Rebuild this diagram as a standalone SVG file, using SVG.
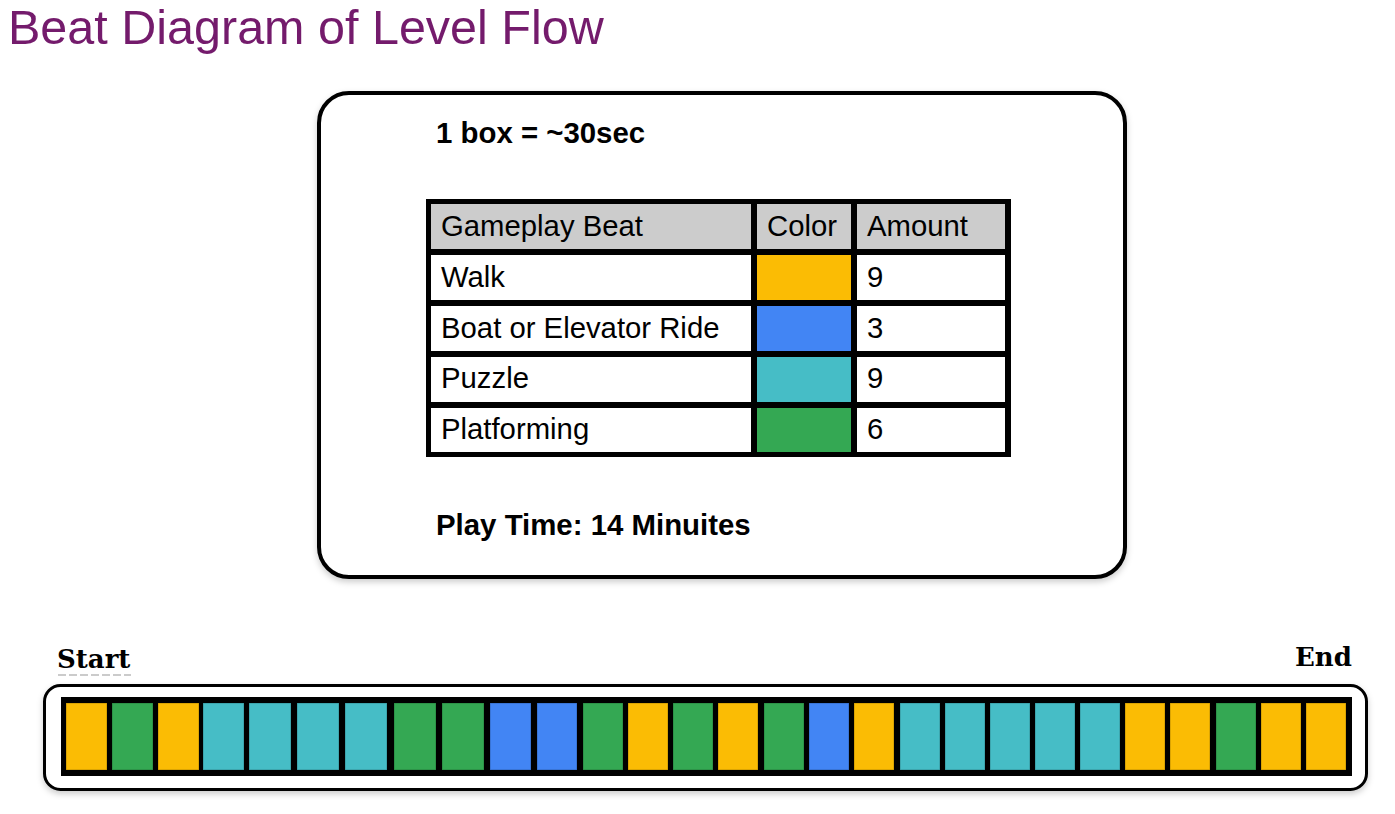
<svg xmlns="http://www.w3.org/2000/svg" width="1395" height="814" viewBox="0 0 1395 814">
<defs>
<style>
.title{font-family:"Liberation Sans",Arial,sans-serif;font-size:48.5px;fill:#741b6c}
.bold{font-family:"Liberation Sans",Arial,sans-serif;font-size:29.4px;font-weight:bold;fill:#000}
.cell{font-family:"Liberation Sans",Arial,sans-serif;font-size:29.3px;fill:#000}
.lbl{font-family:"DejaVu Serif","Liberation Serif",serif;font-size:26px;font-weight:bold;fill:#000}
.hdr{fill:#cccccc}
.wc{fill:#ffffff}
.Y{fill:#fbbc04}
.B{fill:#4285f4}
.T{fill:#46bdc6}
.G{fill:#34a853}
.box{stroke:#000;stroke-opacity:0.25;stroke-width:1}
</style>
<filter id="sh" x="-5%" y="-5%" width="110%" height="115%">
<feDropShadow dx="0" dy="3" stdDeviation="3" flood-color="#000" flood-opacity="0.2"/>
</filter>
</defs>
<rect width="1395" height="814" fill="#ffffff"/>
<text class="title" x="8" y="44">Beat Diagram of Level Flow</text>

<g id="legend-card">
<rect x="319" y="93" width="806" height="484" rx="30" fill="#fff" stroke="#000" stroke-width="4" filter="url(#sh)"/>
<text class="bold" x="436" y="143">1 box = ~30sec</text>
<g id="legend-table">
<rect x="426" y="199" width="585" height="258" fill="#000"/>
<rect class="hdr" x="431" y="204" width="320" height="45"/>
<rect class="hdr" x="757" y="204" width="94" height="45"/>
<rect class="hdr" x="857" y="204" width="148" height="45"/>
<rect class="wc" x="431" y="255" width="320" height="45"/>
<rect class="Y" x="757" y="255" width="94" height="45"/>
<rect class="wc" x="857" y="255" width="148" height="45"/>
<rect class="wc" x="431" y="306" width="320" height="45"/>
<rect class="B" x="757" y="306" width="94" height="45"/>
<rect class="wc" x="857" y="306" width="148" height="45"/>
<rect class="wc" x="431" y="357" width="320" height="45"/>
<rect class="T" x="757" y="357" width="94" height="45"/>
<rect class="wc" x="857" y="357" width="148" height="45"/>
<rect class="wc" x="431" y="408" width="320" height="44"/>
<rect class="G" x="757" y="408" width="94" height="44"/>
<rect class="wc" x="857" y="408" width="148" height="44"/>
<text class="cell" x="441" y="236">Gameplay Beat</text>
<text class="cell" x="767" y="236">Color</text>
<text class="cell" x="867" y="236">Amount</text>
<text class="cell" x="441" y="287">Walk</text>
<text class="cell" x="867" y="287">9</text>
<text class="cell" x="441" y="338">Boat or Elevator Ride</text>
<text class="cell" x="867" y="338">3</text>
<text class="cell" x="441" y="388">Puzzle</text>
<text class="cell" x="867" y="388">9</text>
<text class="cell" x="441" y="439">Platforming</text>
<text class="cell" x="867" y="439">6</text>
</g>
<text class="bold" x="436" y="535">Play Time: 14 Minuites</text>
</g>

<g id="start-label">
<text class="lbl" x="57" y="668">Start</text>
<line x1="58" y1="675" x2="131" y2="675" stroke="#bbb" stroke-width="1.5" stroke-dasharray="8 3"/>
</g>
<g id="end-label">
<text class="lbl" x="1295" y="666">End</text>
</g>

<g id="beat-bar">
<rect x="44.5" y="685.5" width="1322" height="104" rx="16" fill="#fff" stroke="#000" stroke-width="3" filter="url(#sh)"/>
<rect x="61" y="697" width="1291" height="79" fill="#000"/>
<g class="box">
<rect class="Y" x="66" y="703" width="41" height="67"/>
<rect class="G" x="112" y="703" width="41" height="67"/>
<rect class="Y" x="158" y="703" width="41" height="67"/>
<rect class="T" x="203" y="703" width="41" height="67"/>
<rect class="T" x="249" y="703" width="42" height="67"/>
<rect class="T" x="297" y="703" width="42" height="67"/>
<rect class="T" x="345" y="703" width="42" height="67"/>
<rect class="G" x="394" y="703" width="42" height="67"/>
<rect class="G" x="442" y="703" width="42" height="67"/>
<rect class="B" x="490" y="703" width="41" height="67"/>
<rect class="B" x="537" y="703" width="40" height="67"/>
<rect class="G" x="583" y="703" width="40" height="67"/>
<rect class="Y" x="628" y="703" width="40" height="67"/>
<rect class="G" x="673" y="703" width="40" height="67"/>
<rect class="Y" x="718" y="703" width="40" height="67"/>
<rect class="G" x="764" y="703" width="40" height="67"/>
<rect class="B" x="809" y="703" width="40" height="67"/>
<rect class="Y" x="854" y="703" width="40" height="67"/>
<rect class="T" x="900" y="703" width="40" height="67"/>
<rect class="T" x="945" y="703" width="40" height="67"/>
<rect class="T" x="990" y="703" width="40" height="67"/>
<rect class="T" x="1035" y="703" width="40" height="67"/>
<rect class="T" x="1080" y="703" width="40" height="67"/>
<rect class="Y" x="1125" y="703" width="40" height="67"/>
<rect class="Y" x="1170" y="703" width="40" height="67"/>
<rect class="G" x="1216" y="703" width="40" height="67"/>
<rect class="Y" x="1261" y="703" width="40" height="67"/>
<rect class="Y" x="1306" y="703" width="40" height="67"/>
</g>
</g>
</svg>
